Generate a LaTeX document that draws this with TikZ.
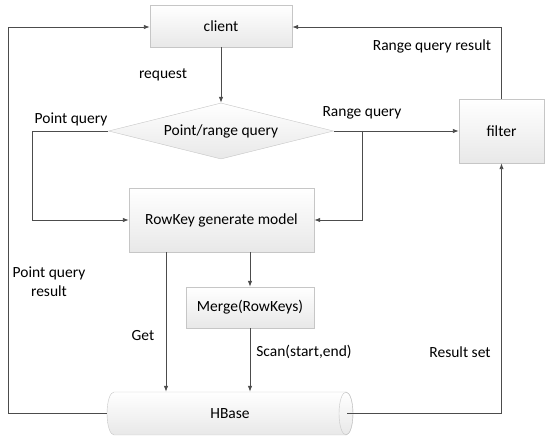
\documentclass[tikz,border=0pt]{standalone}
\usepackage{fontspec}
\setmainfont{Carlito}
\usetikzlibrary{shapes.geometric,arrows.meta}
\begin{document}
\begin{tikzpicture}[x=1pt,y=-1pt,
  every node/.style={font=\fontsize{15.5}{17}\selectfont, text=black},
  box/.style={draw=gray!45, top color=white, bottom color=gray!18, inner sep=0pt},
  arr/.style={draw=black!70, line width=0.9pt, -{Latex[length=6pt,width=4.5pt]}},
  ln/.style={draw=black!70, line width=0.9pt}]
\useasboundingbox (0,0) rectangle (550,441);
\node[box, minimum width=142pt, minimum height=42pt] (cl) at (221,26) {client};
\node[box, diamond, shape aspect=4, minimum width=225pt, minimum height=56pt] (dm) at (221,131) {Point/range query};
\node[box, minimum width=85pt, minimum height=64pt] (fl) at (501.5,131) {filter};
\node[box, minimum width=185pt, minimum height=64pt] (rk) at (221.5,220) {RowKey generate model};
\node[box, minimum width=128pt, minimum height=41pt] (mg) at (250,307.5) {Merge(RowKeys)};
% HBase cylinder
\path[draw=gray!45, top color=white, bottom color=gray!18]
  (114,392) -- (346,392) arc(-90:90:7 and 21.5) -- (114,435) arc(90:270:7 and 21.5) -- cycle;
\draw[gray!45] (346,413.5) ellipse (7 and 21.5);
\node[minimum width=246pt, minimum height=43pt, inner sep=0pt] (hb) at (230,413.5) {HBase};
\coordinate (L) at (8,0);
\coordinate (L2) at (32,0);
\coordinate (B) at (362,131);
% connectors
\draw[arr] (cl.south) -- (dm.north);
\draw[arr] (dm.west) -- (dm.west -| L2) |- (rk.west);
\draw[arr] (dm.east) -- (fl.west);
\draw[arr] (B) |- (rk.east);
\draw[arr] (fl.north) |- ([yshift=-1pt]cl.east);
\draw[arr] (hb.west) -- (hb.west -| L) |- ([yshift=-1pt]cl.west);
\draw[arr] ([xshift=-55.5pt]rk.south) -- ([xshift=-55.5pt]rk.south |- hb.north);
\draw[arr] (mg.north |- rk.south) -- (mg.north);
\draw[arr] (mg.south) -- (mg.south |- hb.north);
\draw[arr] ([xshift=-6pt]hb.east) -| (fl.south);
% labels
\node (lreq) at (163,75) {request};
\node (lpq) at (71,119) {Point query};
\node (lrq) at (362,113) {Range query};
\node (lrqr) at (432,46) {Range query result};
\node[align=center, font=\fontsize{15.5}{19}\selectfont] (lpqr) at (49,282) {Point query\\result};
\node (lget) at (143,336) {Get};
\node (lscan) at (304,352) {Scan(start,end)};
\node (lrs) at (460,352) {Result set};
\end{tikzpicture}
\end{document}
